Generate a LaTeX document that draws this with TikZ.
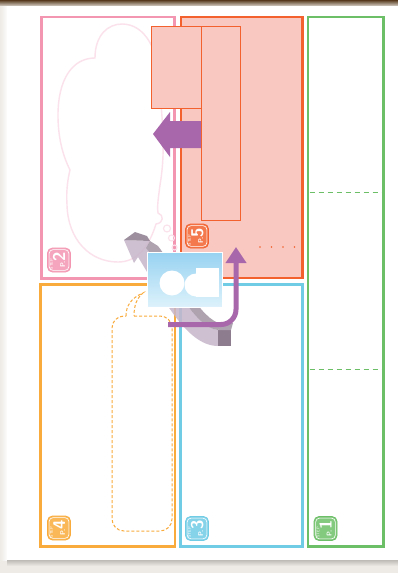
\documentclass[tikz,border=0pt]{standalone}
\usetikzlibrary{arrows.meta}
\definecolor{pinkc}{HTML}{F396B2}
\definecolor{cloudc}{HTML}{FBE1EB}
\definecolor{redc}{HTML}{F2612E}
\definecolor{salmonc}{HTML}{F9C9C1}
\definecolor{purplec}{HTML}{A866AB}
\definecolor{greenc}{HTML}{6DBF67}
\definecolor{orangec}{HTML}{F9AB3C}
\definecolor{bluec}{HTML}{70CBE5}
\definecolor{cardtop}{HTML}{97D2F1}
\definecolor{cardbottom}{HTML}{DDF2FB}
\definecolor{greyband}{HTML}{C7B6CA}
\definecolor{greydark}{HTML}{8C7C8E}
\definecolor{paperedge}{HTML}{EEEAE5}
\tikzset{
  panel/.style={line width=2.6pt},
  cloud/.style={draw=cloudc, line width=1.4pt},
  subrect/.style={draw=redc, fill=salmonc, line width=0.9pt},
  bubble/.style={draw=orangec, dashed, dash pattern=on 3pt off 2pt, line width=1pt},
  fold/.style={draw=greenc, dash pattern=on 5pt off 4pt, line width=1pt},
  badgebox/.style={rounded corners=5pt, minimum width=23pt, minimum height=24pt, inner sep=0pt},
}
% small rounded step badge: name, colour, number, centre
\newcommand\stepbadge[4]{%
  \node[badgebox, fill=#2!85!white, draw=#2, line width=0.8pt] (#1) at (#4) {};
  \draw[white, line width=0.6pt, rounded corners=4pt]
    ([xshift=2pt,yshift=-2pt]#1.north west) rectangle ([xshift=-2pt,yshift=2pt]#1.south east);
  \node[rotate=90, text=white, inner sep=0pt, font=\sffamily\bfseries, anchor=base] (#1t) at ([xshift=6pt]#1.center)
    {\fontsize{7}{7}\selectfont P.\fontsize{17}{17}\selectfont #3};
  \node[rotate=90, text=white, inner sep=0pt, font=\sffamily\fontsize{4}{4}\selectfont] (#1s) at ([xshift=-7.5pt,yshift=-4pt]#1.center) {STEP};
}
\begin{document}
\begin{tikzpicture}[x=1pt,y=-1pt]
\useasboundingbox (0,0) rectangle (398,573);
% sheet and its shadow
\fill[paperedge] (0,0) rectangle (398,573);
\shade[top color=black!55!brown, bottom color=paperedge] (0,0) rectangle (398,7);
\shade[left color=paperedge, right color=white] (0,6) rectangle (8,560);
\fill[white] (7,6) rectangle (398,560);
\shade[top color=paperedge!80!black, bottom color=paperedge] (7,560) rectangle (398,566);

% panels
\draw[panel, pinkc] (41.3,17) rectangle (174.7,278.3);
\draw[panel, redc, fill=salmonc, line width=2.9pt] (181,17) rectangle (302.5,278);
\draw[panel, greenc] (308,17) rectangle (383.3,546.3);
\draw[panel, orangec] (40.7,284.7) rectangle (175,546.3);
\draw[panel, bluec] (180.3,284.2) rectangle (302.5,546.3);

% fold lines
\draw[fold] (309.5,192) -- (382,192);
\draw[fold] (309.5,369) -- (382,369);

% thought cloud
\draw[cloud] (95,58) .. controls (95,35) and (108,24) .. (122,24)
  .. controls (145,24) and (160,50) .. (160,90)
  .. controls (162,120) and (166,150) .. (160,185)
  .. controls (158,200) and (157,208) .. (158,213)
  .. controls (164,215) and (164,223) .. (156,224)
  .. controls (148,250) and (135,262) .. (118,262)
  .. controls (90,262) and (68,240) .. (67,205)
  .. controls (66,190) and (68,178) .. (70,170)
  .. controls (60,150) and (58,130) .. (58,115)
  .. controls (58,80) and (72,58) .. (95,58) -- cycle;
\draw[cloud, line width=1.1pt] (167,228.5) circle (3.5);
\draw[cloud, line width=1.1pt] (171.5,238) circle (3);
\draw[cloud, line width=1.1pt] (174.5,247.5) circle (2.5);

% inner frames on the red panel
\draw[subrect] (151.7,26) rectangle (203,108);
\fill[purplec] (201.7,121) -- (170,121) -- (170,112) -- (153,134) -- (170,157) -- (170,148) -- (201.7,148) -- cycle;
\draw[subrect] (201.7,26) rectangle (240,220);

% dotted leader
\foreach \dx in {260,271.5,283,294.5}
  \fill[redc] (\dx,247) circle (0.8);

% speech bubble
\draw[bubble, rounded corners=12pt] (134,316) -- (172,316) -- (172,531) -- (112,531) -- (112,316) -- (126,316);
\draw[bubble] (126,316) .. controls (126,306) and (131,298) .. (143,293)
  .. controls (137,298) and (134,305) .. (134,316);

% curved grey arrow behind the card
\fill[greyband, opacity=0.85] (218,330) .. controls (195,328) and (175,282) .. (146,248)
  -- (150,241) -- (124,240) -- (134,263) -- (138,257)
  .. controls (160,292) and (185,346) .. (218,346) -- cycle;
\fill[greydark, opacity=0.85] (124,240) -- (135,232) -- (147,236) -- (150,241) -- cycle;
\fill[greydark, opacity=0.7] (146,248) -- (150,241) -- (158,246) .. controls (180,275) and (200,320) .. (222,324) -- (218,330)
  .. controls (195,328) and (175,282) .. (146,248) -- cycle;
\fill[greydark] (218,330) rectangle (231,346);
\fill[greydark!70!white] (218,330) -- (222,323) -- (233,323) -- (231,330) -- cycle;

% picture card
\shade[top color=cardtop, bottom color=cardbottom] (147,252) rectangle (222,307);
\draw[white, line width=0.8pt] (147,252) rectangle (222,307);
\fill[white] (172,283) circle (12.5);
\fill[white] (196,285) circle (11.5);
\fill[white] (196,267.5) rectangle (219,296.5);

% purple route arrow
\draw[purplec, line width=5pt, rounded corners=15pt, -{Triangle[length=16pt,width=20pt]}]
  (168,324.5) -- (236,324.5) -- (236,247);

% step badges
\stepbadge{b2}{pinkc}{2}{59,260}
\stepbadge{b5}{redc}{5}{197,236}
\stepbadge{b4}{orangec}{4}{59,528}
\stepbadge{b3}{bluec}{3}{197,528.5}
\stepbadge{b1}{greenc}{1}{325.5,528.5}
\end{tikzpicture}
\end{document}
